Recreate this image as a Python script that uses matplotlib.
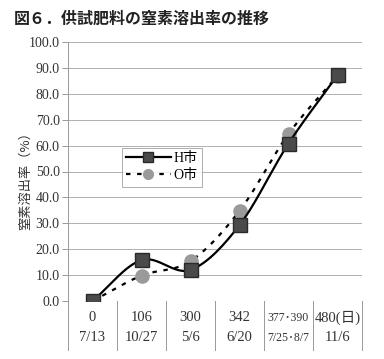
import numpy as np
import matplotlib
matplotlib.use("Agg")
import matplotlib.pyplot as plt
from matplotlib.lines import Line2D

days = ["0", "106", "300", "342", "377･390", "480(日)"]
dates = ["7/13", "10/27", "5/6", "6/20", "7/25･8/7", "11/6"]
h_vals = [0.0, 15.8, 12.0, 29.3, 60.8, 87.2]
o_vals = [0.0, 9.8, 15.4, 34.8, 64.5, 87.0]
yticks = [0, 10, 20, 30, 40, 50, 60, 70, 80, 90, 100]

SERIF = ['Liberation Serif', 'DejaVu Serif', 'Noto Sans CJK JP']
CJK = ['Noto Sans CJK JP', 'DejaVu Sans']


def smooth(x, y, n=30):
    x = np.asarray(x, float); y = np.asarray(y, float)
    px = np.concatenate([[2*x[0]-x[1]], x, [2*x[-1]-x[-2]]])
    py = np.concatenate([[2*y[0]-y[1]], y, [2*y[-1]-y[-2]]])
    xs, ys = [], []
    t = np.linspace(0, 1, n)
    for i in range(1, len(px)-2):
        p0, p1, p2, p3 = [np.array([px[j], py[j]]) for j in (i-1, i, i+1, i+2)]
        for tt in t:
            pt = 0.5*((2*p1) + (-p0+p2)*tt + (2*p0-5*p1+4*p2-p3)*tt**2 + (-p0+3*p1-3*p2+p3)*tt**3)
            xs.append(pt[0]); ys.append(pt[1])
    return np.array(xs), np.array(ys)


fig = plt.figure(figsize=(3.84, 3.59), dpi=100)
ax = fig.add_axes([68/384, 1-301/359, (362-68)/384, (301-42)/359])
ax.set_xlim(-0.5, len(days)-0.5)
ax.set_ylim(0, 100)

x = np.arange(len(days))
for v in yticks:
    ax.axhline(v, color='#b0b0b0', lw=0.7, zorder=0)

sx, sy = smooth(x, o_vals)
ax.plot(sx, sy, color='black', lw=1.6, ls=(0, (2, 3)), zorder=2)
ax.plot(x, o_vals, ls='none', marker='o', ms=9.5, mfc='#9a9a9a', mec='#9a9a9a', zorder=3)
sx, sy = smooth(x, h_vals)
ax.plot(sx, sy, color='black', lw=1.6, zorder=4)
ax.plot(x, h_vals, ls='none', marker='s', ms=10, mfc='#4a4a4a', mec='#2a2a2a', zorder=5)

ax.set_yticks(yticks)
ax.set_yticklabels([f"{v:.1f}" for v in yticks], fontfamily=SERIF, fontsize=10, color='#333333')
ax.tick_params(axis='y', length=4, width=0.7, color='#999999', pad=2)
ax.set_xticks([])
for s in ['top', 'right', 'bottom']:
    ax.spines[s].set_visible(False)
ax.spines['left'].set_color('#999999')
ax.spines['left'].set_linewidth(0.7)

# category separators below axis
for b in np.arange(-0.5, len(days), 1.0):
    ax.add_line(Line2D([b, b], [0, -19], color='#999999', lw=0.7, clip_on=False))
for i in range(len(days)):
    fs = 8.5 if i == 4 else 10.5
    ax.text(i, -6.5, days[i], ha='center', va='center', fontfamily=SERIF, fontsize=fs, color='#333333', clip_on=False)
    ax.text(i, -14.2, dates[i], ha='center', va='center', fontfamily=SERIF, fontsize=fs, color='#333333', clip_on=False)

fig.text(25/384, 1-178/359, "窒素溶出率（%）", rotation=90, ha='center', va='center',
         fontfamily=CJK, fontsize=9.5, color='#333333')
fig.text(14/384, 1-19/359, "図６．供試肥料の窒素溶出率の推移", ha='left', va='center',
         fontfamily=CJK, fontsize=11.5, fontweight='bold', color='#222222')

handles = [
    Line2D([], [], color='black', lw=1.6, marker='s', ms=7, mfc='#4a4a4a', mec='#2a2a2a'),
    Line2D([], [], color='black', lw=1.6, ls=(0, (2, 3)), marker='o', ms=7, mfc='#9a9a9a', mec='#9a9a9a'),
]
leg = ax.legend(handles, ["H市", "O市"], loc='upper left', bbox_to_anchor=((122-68)/294, 1-(148-42)/259),
                prop={'family': SERIF, 'size': 10}, frameon=True, fancybox=False,
                edgecolor='#999999', handlelength=3.2, borderpad=0.3, labelspacing=0.3,
                handletextpad=0.2, borderaxespad=0)
leg.get_frame().set_linewidth(0.7)

fig.savefig("out.png", dpi=100)
